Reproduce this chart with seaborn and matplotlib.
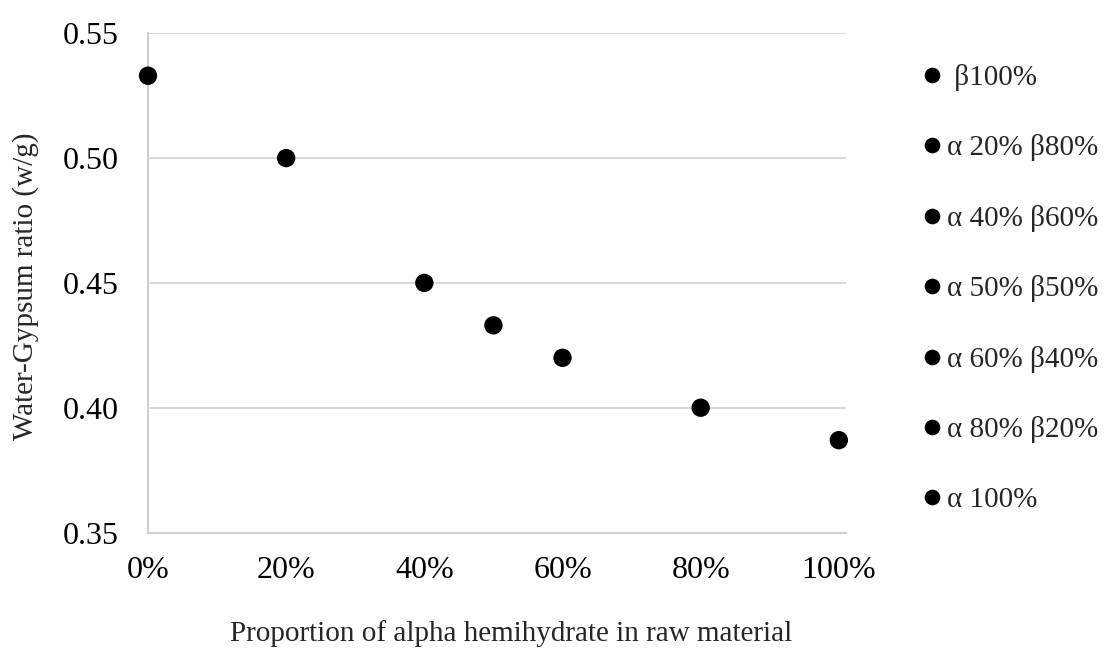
import matplotlib
matplotlib.use("Agg")
import matplotlib.pyplot as plt
import seaborn as sns
import pandas as pd
from matplotlib.ticker import PercentFormatter

# Mix proportions and measured water-gypsum ratios
mixes = [" β100%", "α 20% β80%", "α 40% β60%", "α 50% β50%",
         "α 60% β40%", "α 80% β20%", "α 100%"]
alpha_share = [0.0, 0.2, 0.4, 0.5, 0.6, 0.8, 1.0]
wg_ratio = [0.533, 0.500, 0.450, 0.433, 0.420, 0.400, 0.387]

x_ticks = [0.0, 0.2, 0.4, 0.6, 0.8, 1.0]
y_ticks = [0.35, 0.40, 0.45, 0.50, 0.55]

df = pd.DataFrame({"mix": mixes, "alpha": alpha_share, "wg": wg_ratio})

sns.set_theme(style="white")
plt.rcParams["font.family"] = ["Liberation Serif", "DejaVu Serif"]

fig = plt.figure(figsize=(11.06, 6.48), dpi=100)
ax = fig.add_axes([0.1338, 0.1782, 0.7647 - 0.1338, 0.9486 - 0.1782])

sns.scatterplot(data=df, x="alpha", y="wg", hue="mix", hue_order=mixes,
                palette=["black"] * len(mixes), s=175, edgecolor="none",
                ax=ax, zorder=3, clip_on=False)

ax.set_xlim(0, 1.01)
ax.set_ylim(0.35, 0.55)
ax.set_xticks(x_ticks)
ax.set_yticks(y_ticks)
ax.xaxis.set_major_formatter(PercentFormatter(1.0, decimals=0))
ax.set_yticklabels([f"{v:.2f}" for v in y_ticks])
ax.tick_params(axis="both", labelsize=23, length=0, colors="black")
ax.tick_params(axis="y", pad=21)
ax.tick_params(axis="x", pad=17)

ax.grid(axis="y", color="#d9d9d9", linewidth=1.5)
ax.grid(axis="x", visible=False)
for side in ("top", "right"):
    ax.spines[side].set_visible(False)
for side in ("left", "bottom"):
    ax.spines[side].set_color("#d0d0d0")
    ax.spines[side].set_linewidth(1.5)

ax.set_xlabel("Proportion of alpha hemihydrate in raw material", fontsize=21)
ax.xaxis.label.set_va("center")
ax.xaxis.set_label_coords(0.521, -0.202)
ax.set_ylabel("Water-Gypsum ratio (w/g)", fontsize=21)
ax.yaxis.label.set_va("center")
ax.yaxis.set_label_coords(-0.175, 0.494)

leg = ax.legend(loc="upper left", bbox_to_anchor=(1.1028, 0.9385), frameon=False,
                fontsize=21, markerscale=0.85, handlelength=1.0, handletextpad=0.0,
                labelspacing=1.49, borderpad=0, borderaxespad=0)

fig.savefig("out.png", dpi=100)
